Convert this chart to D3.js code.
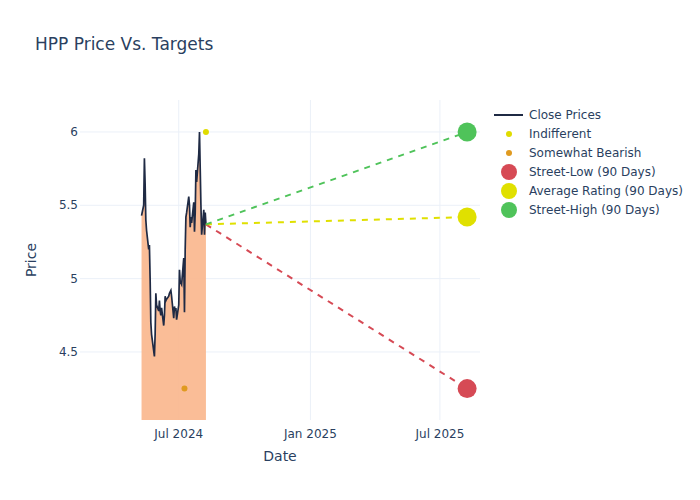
<!DOCTYPE html>
<html><head><meta charset="utf-8">
<script src="https://cdn.jsdelivr.net/npm/d3@7"></script>
<style>body{margin:0;background:#fff;} svg{font-family:"DejaVu Sans","Open Sans",sans-serif;}</style>
</head><body><div id="chart"></div>
<script>
const dates = ["2024-05-10","2024-05-13","2024-05-14","2024-05-15","2024-05-16","2024-05-17","2024-05-20","2024-05-21","2024-05-22","2024-05-23","2024-05-24","2024-05-28","2024-05-29","2024-05-30","2024-05-31","2024-06-03","2024-06-04","2024-06-05","2024-06-06","2024-06-07","2024-06-10","2024-06-11","2024-06-12","2024-06-13","2024-06-14","2024-06-17","2024-06-18","2024-06-20","2024-06-21","2024-06-24","2024-06-25","2024-06-26","2024-06-27","2024-06-28","2024-07-01","2024-07-02","2024-07-03","2024-07-05","2024-07-08","2024-07-09","2024-07-10","2024-07-11","2024-07-12","2024-07-15","2024-07-16","2024-07-17","2024-07-18","2024-07-19","2024-07-22","2024-07-23","2024-07-24","2024-07-25","2024-07-26","2024-07-29","2024-07-30","2024-07-31","2024-08-01","2024-08-02","2024-08-05","2024-08-06","2024-08-07","2024-08-08"];
const closes = [5.43,5.5,5.82,5.65,5.4,5.33,5.2,5.23,5.0,4.7,4.62,4.47,4.62,4.9,4.82,4.78,4.85,4.78,4.75,4.8,4.68,4.75,4.88,4.85,4.86,4.88,4.9,4.92,4.88,4.73,4.81,4.78,4.8,4.72,4.82,5.06,4.98,4.96,5.14,4.77,5.2,5.42,5.45,5.56,5.5,5.35,5.42,5.38,5.52,5.32,5.45,5.74,5.66,5.85,6.0,5.75,5.5,5.3,5.47,5.3,5.45,5.37];
const ratingNames = ["Indifferent","Somewhat Bearish"];
const ratingDates = ["2024-08-08","2024-07-09"];
const ratingValues = [6.0,4.25];
const ratingColors = ["#e0dc00","#e09a20"];
const targetNames = ["Street-Low (90 Days)","Average Rating (90 Days)","Street-High (90 Days)"];
const targetDate = "2025-08-08";
const targetValues = [4.25,5.42,6.0];
const targetColors = ["#d64a55","#e0e000","#4fc35a"];
const xTickDates = ["2024-07-01","2025-01-01","2025-07-01"];
const xTickLabels = ["Jul 2024","Jan 2025","Jul 2025"];
const yTicks = [4.5,5,5.5,6];

const W=700,H=500,m={l:80,r:220,t:100,b:80};
const parse=d3.timeParse("%Y-%m-%d");
const svg=d3.select("#chart").append("svg").attr("width",W).attr("height",H);
const x=d3.scaleTime().domain([parse("2024-02-14"),parse("2025-08-26")]).range([m.l,W-m.r]);
const y=d3.scaleLinear().domain([4.036,6.218]).range([H-m.b,m.t]);
const txt="#2a3f5f", grid="#ebf0f8";

const g=svg.append("g");
g.selectAll(".yg").data(yTicks).join("line").attr("x1",m.l).attr("x2",W-m.r)
 .attr("y1",d=>y(d)).attr("y2",d=>y(d)).attr("stroke",grid).attr("stroke-width",1);
g.selectAll(".xg").data(xTickDates).join("line").attr("y1",m.t).attr("y2",H-m.b)
 .attr("x1",d=>x(parse(d))).attr("x2",d=>x(parse(d))).attr("stroke",grid).attr("stroke-width",1);

const pts=dates.map((d,i)=>({d:parse(d),v:closes[i]}));
g.append("path").datum(pts).attr("fill","#f9b68c").attr("opacity",0.9)
 .attr("d",d3.area().x(p=>x(p.d)).y0(H-m.b).y1(p=>y(p.v)));
g.append("path").datum(pts).attr("fill","none").attr("stroke","#1f2a44").attr("stroke-width",1.7)
 .attr("d",d3.line().x(p=>x(p.d)).y(p=>y(p.v)));

const last=pts[pts.length-1];
targetValues.forEach((v,i)=>{
  g.append("line").attr("x1",x(last.d)).attr("y1",y(last.v)).attr("x2",x(parse(targetDate))).attr("y2",y(v))
   .attr("stroke",targetColors[i]).attr("stroke-width",2).attr("stroke-dasharray","6,6");
});
ratingValues.forEach((v,i)=>{
  g.append("circle").attr("cx",x(parse(ratingDates[i]))).attr("cy",y(v)).attr("r",3).attr("fill",ratingColors[i]);
});
targetValues.forEach((v,i)=>{
  g.append("circle").attr("cx",x(parse(targetDate))).attr("cy",y(v)).attr("r",9.5).attr("fill",targetColors[i]);
});

svg.selectAll(".yt").data(yTicks).join("text").attr("x",m.l-2).attr("y",d=>y(d)).attr("dy","0.35em")
 .attr("text-anchor","end").attr("fill",txt).attr("font-size",12).text(d=>d3.format("")(d));
svg.selectAll(".xt").data(xTickDates).join("text").attr("x",d=>x(parse(d))).attr("y",H-m.b+14)
 .attr("dy","0.35em").attr("text-anchor","middle").attr("fill",txt).attr("font-size",12).text((d,i)=>xTickLabels[i]);
svg.append("text").attr("x",(m.l+W-m.r)/2).attr("y",461).attr("text-anchor","middle").attr("fill",txt).attr("font-size",14).text("Date");
svg.append("text").attr("transform",`translate(36,${(m.t+H-m.b)/2}) rotate(-90)`).attr("text-anchor","middle").attr("fill",txt).attr("font-size",14).text("Price");
svg.append("text").attr("x",35).attr("y",50).attr("fill",txt).attr("font-size",17).text("HPP Price Vs. Targets");

const lg=svg.append("g").attr("transform","translate(494,0)");
const items=[{n:"Close Prices",t:"line",c:"#1f2a44"}]
 .concat(ratingNames.map((n,i)=>({n,t:"s",c:ratingColors[i]})))
 .concat(targetNames.map((n,i)=>({n,t:"b",c:targetColors[i]})));
items.forEach((it,i)=>{
  const yy=115+i*19;
  if(it.t==="line") lg.append("line").attr("x1",0).attr("x2",29).attr("y1",yy).attr("y2",yy).attr("stroke",it.c).attr("stroke-width",2);
  else lg.append("circle").attr("cx",15).attr("cy",yy).attr("r",it.t==="s"?3:8).attr("fill",it.c);
  lg.append("text").attr("x",35).attr("y",yy).attr("dy","0.35em").attr("fill",txt).attr("font-size",12).text(it.n);
});
</script></body></html>
